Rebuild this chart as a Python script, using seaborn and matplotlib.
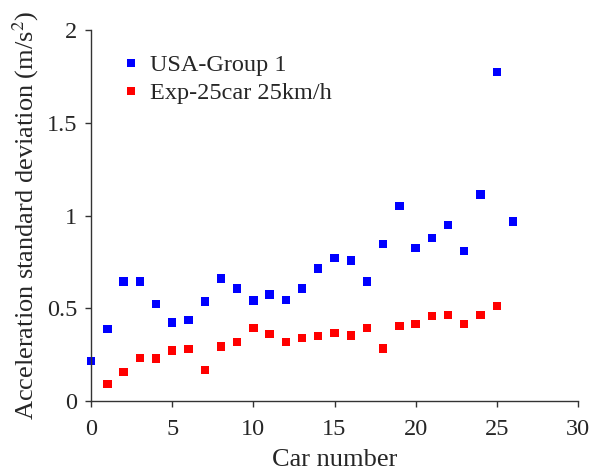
import matplotlib
matplotlib.use("Agg")
import matplotlib.pyplot as plt
import seaborn as sns
import pandas as pd

usa_cars = list(range(0, 27))
usa_vals = [0.217, 0.388, 0.645, 0.646, 0.524, 0.424, 0.436, 0.537, 0.661, 0.607,
            0.542, 0.575, 0.546, 0.607, 0.715, 0.772, 0.759, 0.646, 0.847, 1.054,
            0.826, 0.880, 0.950, 0.811, 1.115, 1.774, 0.968]
exp_cars = list(range(1, 26))
exp_vals = [0.093, 0.158, 0.232, 0.230, 0.273, 0.282, 0.169, 0.294, 0.320, 0.395,
            0.361, 0.318, 0.341, 0.352, 0.366, 0.355, 0.395, 0.285, 0.404, 0.415,
            0.458, 0.463, 0.415, 0.463, 0.515]
series_names = ["USA-Group 1", "Exp-25car 25km/h"]
x_ticks = [0, 5, 10, 15, 20, 25, 30]
y_ticks = [0, 0.5, 1, 1.5, 2]
y_tick_labels = ["0", "0.5", "1", "1.5", "2"]

df = pd.concat([
    pd.DataFrame({"car": usa_cars, "val": usa_vals, "series": series_names[0]}),
    pd.DataFrame({"car": exp_cars, "val": exp_vals, "series": series_names[1]}),
])

sns.set_style("ticks")
plt.rcParams["font.family"] = ["Liberation Serif", "DejaVu Serif"]
plt.rcParams["mathtext.fontset"] = "stix"

fig = plt.figure(figsize=(6.0, 4.72), dpi=100)
ax = fig.add_axes([0.152, 0.150, 0.811, 0.786])

sns.scatterplot(data=df, x="car", y="val", hue="series", hue_order=series_names,
                palette=["#0000ff", "#ff0000"], marker="s", s=36, linewidth=0,
                ax=ax, clip_on=False)

ax.set_xlim(0, 30)
ax.set_ylim(0, 2)
ax.set_xticks(x_ticks)
ax.set_xticklabels([str(t) for t in x_ticks])
ax.set_yticks(y_ticks)
ax.set_yticklabels(y_tick_labels)
ax.tick_params(axis="both", labelsize=17.5, direction="out", length=4, width=1, color="#333333")
ax.tick_params(axis="x", pad=9)
ax.tick_params(axis="y", pad=6)
for sp in ["top", "right"]:
    ax.spines[sp].set_visible(False)
for sp in ["left", "bottom"]:
    ax.spines[sp].set_color("#333333")
    ax.spines[sp].set_linewidth(1)

ax.set_xlabel("Car number", fontsize=19, labelpad=6)
ax.set_ylabel("Acceleration standard deviation (m/s$^2$)", fontsize=19, labelpad=4)
ax.yaxis.set_label_coords(-0.103, 0.5)

leg = ax.legend(loc="upper left", bbox_to_anchor=(0.041, 0.962), frameon=False, fontsize=17.5,
                handlelength=0.8, handletextpad=0.4, labelspacing=0.26, markerscale=1.0,
                borderaxespad=0)

fig.savefig("out.png", dpi=100)
